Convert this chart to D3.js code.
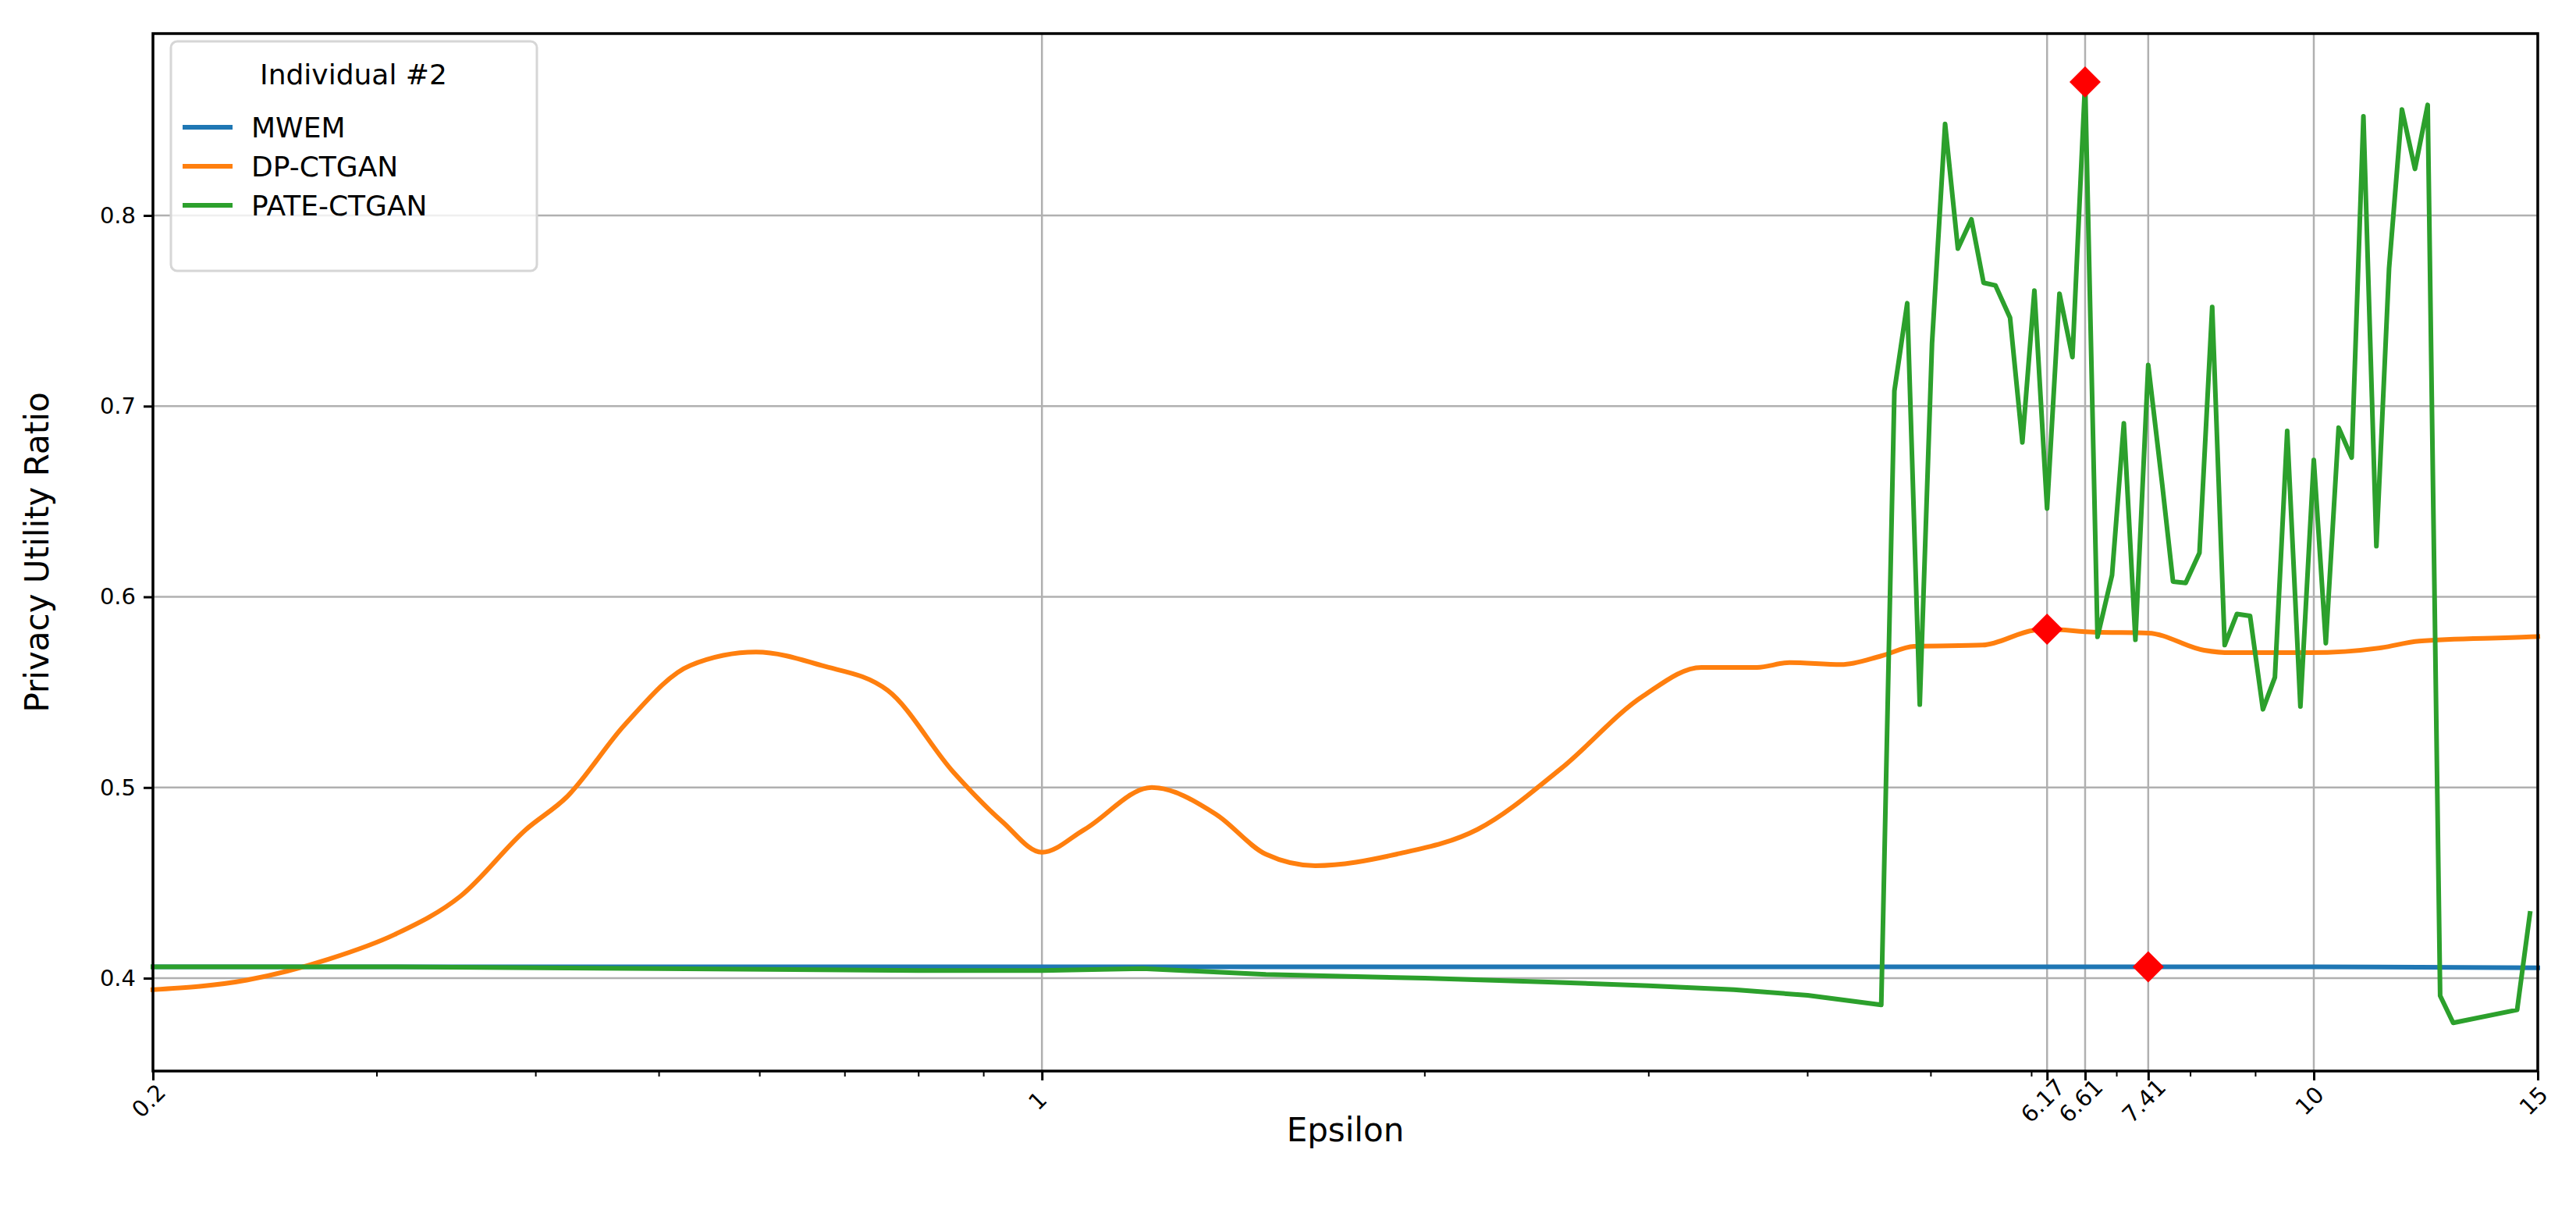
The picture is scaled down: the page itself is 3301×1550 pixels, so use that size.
<!DOCTYPE html>
<html>
<head>
<meta charset="utf-8">
<script src="https://cdn.jsdelivr.net/npm/d3@7"></script>
<style>
  body { margin: 0; background: #fff; }
  text { font-family: "DejaVu Sans", sans-serif; }
</style>
</head>
<body>
<svg id="chart" width="3301" height="1550"></svg>
<script>
// values
const mwemEps = [0.2, 1, 5, 10, 15];
const mwemVal = [0.406, 0.406, 0.406, 0.406, 0.4055];

const dpEps = [0.2, 0.237, 0.275, 0.31, 0.349, 0.393, 0.423, 0.47, 0.529, 0.596, 0.671, 0.756, 0.852, 0.931, 1.0,
  1.08, 1.22, 1.37, 1.5, 1.64, 1.9, 2.2, 2.56, 2.97, 3.3, 3.65, 3.87, 4.25, 4.57, 4.85, 5.49, 6.03, 6.17,
  6.71, 7.41, 8.2, 8.6, 9.93, 11.3, 12.1, 14.8, 15];
const dpVal = [0.394, 0.399, 0.41, 0.423, 0.443, 0.478, 0.495, 0.533, 0.564, 0.571, 0.564, 0.551, 0.508, 0.482, 0.466,
  0.478, 0.500, 0.486, 0.465, 0.459, 0.465, 0.478, 0.51, 0.548, 0.563, 0.563, 0.5655, 0.5645, 0.569, 0.574, 0.5747, 0.5825, 0.583,
  0.5815, 0.581, 0.572, 0.5707, 0.5707, 0.5733, 0.5768, 0.579, 0.5792];

const pateEps = [0.2, 0.3, 0.5, 0.8, 1, 1.2, 1.5, 2, 2.5, 3, 3.5, 4, 4.57,
  4.68, 4.79, 4.90, 5.01, 5.13, 5.25, 5.38, 5.50, 5.62, 5.77, 5.90, 6.03, 6.17, 6.31, 6.46, 6.61,
  6.76, 6.94, 7.09, 7.24, 7.41, 7.60, 7.75, 7.93, 8.13, 8.32, 8.51, 8.70, 8.91, 9.12, 9.32, 9.53,
  9.76, 10.0, 10.22, 10.46, 10.71, 10.94, 11.20, 11.46, 11.73, 12.01, 12.29, 12.57, 12.87, 14.45, 14.79];
const pateVal = [0.406, 0.406, 0.405, 0.404, 0.404, 0.405, 0.402, 0.400, 0.398, 0.396, 0.394, 0.391, 0.386,
  0.708, 0.754, 0.5435, 0.733, 0.848, 0.7826, 0.798, 0.7647, 0.7633, 0.7464, 0.681, 0.7606, 0.6463, 0.759, 0.7257, 0.870,
  0.579, 0.6114, 0.691, 0.5775, 0.7216, 0.659, 0.608, 0.6073, 0.623, 0.752, 0.5747, 0.591, 0.590, 0.541, 0.5578, 0.687,
  0.5425, 0.6718, 0.5757, 0.6887, 0.673, 0.852, 0.6266, 0.7724, 0.8556, 0.8244, 0.858, 0.3908, 0.3766, 0.3834, 0.434];

const markers = [[6.17, 0.583], [6.61, 0.870], [7.41, 0.406]];
const xTickVals = [0.2, 1, 6.17, 6.61, 7.41, 10, 15];
const yTickVals = [0.4, 0.5, 0.6, 0.7, 0.8];
const seriesNames = ["MWEM", "DP-CTGAN", "PATE-CTGAN"];
const seriesColors = ["#1f77b4", "#ff7f0e", "#2ca02c"];

const svg = d3.select("#chart");
const pLeft = 196, pRight = 3252, pTop = 43, pBottom = 1372;

const x = d3.scaleLog().domain([0.2, 15]).range([pLeft, pRight]);
const y = d3.scaleLinear().domain([0.3513, 0.8954]).range([pBottom, pTop]);

// grid
svg.append("g").selectAll("line").data(xTickVals).enter().append("line")
  .attr("x1", d => x(d)).attr("x2", d => x(d)).attr("y1", pTop).attr("y2", pBottom)
  .attr("stroke", "#b0b0b0").attr("stroke-width", 2.5);
svg.append("g").selectAll("line").data(yTickVals).enter().append("line")
  .attr("x1", pLeft).attr("x2", pRight).attr("y1", d => y(d)).attr("y2", d => y(d))
  .attr("stroke", "#b0b0b0").attr("stroke-width", 2.5);

// lines
const lineLin = d3.line().x(d => x(d[0])).y(d => y(d[1]));
const lineSmooth = d3.line().x(d => x(d[0])).y(d => y(d[1])).curve(d3.curveMonotoneX);
const series = [
  [d3.zip(mwemEps, mwemVal), lineLin],
  [d3.zip(dpEps, dpVal), lineSmooth],
  [d3.zip(pateEps, pateVal), lineLin]
];
series.forEach((s, i) => {
  svg.append("path").datum(s[0]).attr("d", s[1])
    .attr("fill", "none").attr("stroke", seriesColors[i]).attr("stroke-width", 6)
    .attr("stroke-linejoin", "round").attr("stroke-linecap", "square");
});

// markers
svg.append("g").selectAll("path").data(markers).enter().append("path")
  .attr("transform", d => `translate(${x(d[0])},${y(d[1])})`)
  .attr("d", "M0,-20L20,0L0,20L-20,0Z").attr("fill", "red");

// axes
const xAxis = d3.axisBottom(x).tickValues(xTickVals).tickFormat(d => d3.format("~g")(d)).tickSize(12);
const gx = svg.append("g").attr("transform", `translate(0,${pBottom})`).call(xAxis);
gx.selectAll("text").attr("font-size", 29).attr("text-anchor", "middle")
  .attr("transform", "translate(-6,38) rotate(-45)").attr("dy", "0.35em").attr("y", 0);
const minor = [0.3, 0.4, 0.5, 0.6, 0.7, 0.8, 0.9, 2, 3, 4, 5, 6, 7, 8, 9];
svg.append("g").selectAll("line").data(minor).enter().append("line")
  .attr("x1", d => x(d)).attr("x2", d => x(d)).attr("y1", pBottom).attr("y2", pBottom + 7)
  .attr("stroke", "#000").attr("stroke-width", 2);

const gy = svg.append("g").attr("transform", `translate(${pLeft},0)`)
  .call(d3.axisLeft(y).tickValues(yTickVals).tickFormat(d3.format(".1f")).tickSize(12).tickPadding(10));
gy.selectAll("text").attr("font-size", 29);
[gx, gy].forEach(g => {
  g.select(".domain").remove();
  g.selectAll(".tick line").attr("stroke-width", 3);
});

// frame
svg.append("rect").attr("x", pLeft).attr("y", pTop).attr("width", pRight - pLeft).attr("height", pBottom - pTop)
  .attr("fill", "none").attr("stroke", "#000").attr("stroke-width", 3.5);

// labels
svg.append("text").attr("x", (pLeft + pRight) / 2).attr("y", 1462).attr("text-anchor", "middle")
  .attr("font-size", 42).text("Epsilon");
svg.append("text").attr("transform", `translate(62,${(pTop + pBottom) / 2}) rotate(-90)`)
  .attr("text-anchor", "middle").attr("font-size", 42).text("Privacy Utility Ratio");

// legend
const lg = svg.append("g");
lg.append("rect").attr("x", 219).attr("y", 53).attr("width", 469).attr("height", 294).attr("rx", 8)
  .attr("fill", "rgba(255,255,255,0.8)").attr("stroke", "#d6d6d6").attr("stroke-width", 3);
lg.append("text").attr("x", 453).attr("y", 108).attr("text-anchor", "middle").attr("font-size", 36).text("Individual #2");
seriesNames.forEach((n, i) => {
  const yy = 163 + i * 50;
  lg.append("line").attr("x1", 234).attr("x2", 298).attr("y1", yy).attr("y2", yy)
    .attr("stroke", seriesColors[i]).attr("stroke-width", 6);
  lg.append("text").attr("x", 322).attr("y", yy).attr("dy", "0.35em").attr("font-size", 36).text(n);
});
</script>
</body>
</html>
